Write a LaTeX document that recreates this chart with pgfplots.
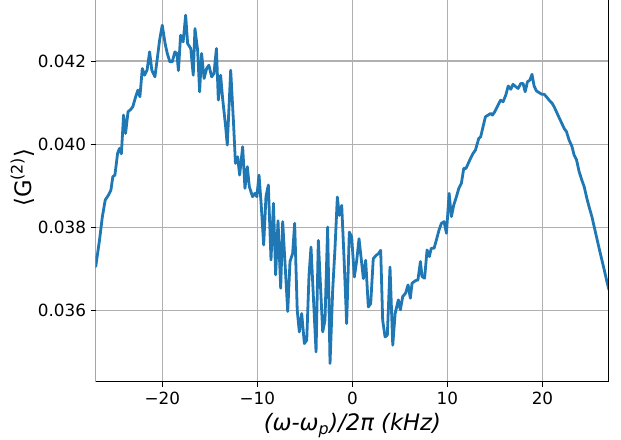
\documentclass[border=0pt]{standalone}
\usepackage{pgfplots}
\pgfplotsset{compat=1.18}
\usetikzlibrary{calc}
\usepackage{fontspec}
\setmainfont{DejaVu Sans}
\definecolor{mplblue}{HTML}{1F77B4}
\definecolor{gridgray}{HTML}{B0B0B0}
\pgfplotstableread{
x y
-27.0 0.03706
-26.6 0.03770
-26.3 0.03826
-26.0 0.03866
-25.65 0.03878
-25.4 0.03890
-25.2 0.03922
-24.98 0.03926
-24.7 0.03978
-24.5 0.03990
-24.3 0.03977
-24.07 0.04070
-23.86 0.04026
-23.6 0.04078
-23.3 0.04084
-23.1 0.04090
-22.8 0.04114
-22.56 0.04130
-22.35 0.04114
-22.1 0.04182
-21.86 0.04166
-21.6 0.04178
-21.33 0.04222
-21.1 0.04178
-20.77 0.04162
-20.5 0.04210
-20.28 0.04250
-20.0 0.04286
-19.7 0.04242
-19.47 0.04218
-19.2 0.04198
-18.95 0.04198
-18.67 0.04222
-18.46 0.04218
-18.3 0.04177
-18.07 0.04262
-17.8 0.04246
-17.54 0.04310
-17.33 0.04242
-17.0 0.04230
-16.74 0.04166
-16.56 0.04278
-16.28 0.04226
-16.07 0.04126
-15.86 0.04218
-15.6 0.04158
-15.33 0.04182
-15.1 0.04190
-14.8 0.04162
-14.56 0.04170
-14.3 0.04230
-14.1 0.04106
-13.86 0.04166
-13.65 0.04110
-13.33 0.04042
-13.16 0.03998
-12.8 0.04178
-12.5 0.04050
-12.3 0.03954
-12.07 0.03970
-11.86 0.03926
-11.54 0.03994
-11.3 0.03894
-11.05 0.03946
-10.84 0.03898
-10.5 0.03874
-10.25 0.03882
-10.05 0.03874
-9.82 0.03926
-9.6 0.03858
-9.33 0.03758
-9.09 0.03874
-8.84 0.03902
-8.56 0.03722
-8.3 0.03858
-8.07 0.03686
-7.82 0.03816
-7.54 0.03654
-7.33 0.03814
-6.8 0.03598
-6.56 0.03718
-6.28 0.03738
-6.07 0.03810
-5.8 0.03601
-5.58 0.03549
-5.33 0.03593
-5.05 0.03521
-4.8 0.03529
-4.56 0.03685
-4.35 0.03753
-4.1 0.03633
-3.82 0.03501
-3.58 0.03769
-3.33 0.03649
-3.12 0.03549
-2.88 0.03577
-2.6 0.03801
-2.35 0.03473
-2.07 0.03649
-1.82 0.03753
-1.58 0.03873
-1.37 0.03829
-1.12 0.03853
-0.88 0.03729
-0.6 0.03569
-0.32 0.03789
-0.07 0.03777
0.21 0.03681
0.46 0.03721
0.7 0.03773
0.95 0.03721
1.16 0.03677
1.4 0.03721
1.68 0.03609
1.93 0.03617
2.2 0.03725
2.5 0.03733
2.74 0.03737
2.98 0.03745
3.19 0.03577
3.44 0.03537
3.68 0.03541
3.96 0.03705
4.25 0.03517
4.5 0.03593
4.84 0.03626
5.05 0.03602
5.3 0.03634
5.6 0.03642
5.86 0.03662
6.1 0.03630
6.28 0.03666
6.63 0.03672
6.9 0.03674
7.16 0.03718
7.33 0.03682
7.6 0.03678
7.86 0.03746
8.1 0.03730
8.3 0.03750
8.6 0.03750
8.84 0.03770
9.12 0.03794
9.37 0.03810
9.65 0.03814
9.9 0.03786
10.18 0.03882
10.42 0.03826
10.67 0.03854
10.95 0.03874
11.2 0.03894
11.47 0.03906
11.72 0.03942
11.96 0.03942
12.35 0.03962
12.7 0.03978
12.95 0.03986
13.3 0.04014
13.5 0.04018
13.75 0.04042
14.0 0.04066
14.28 0.04070
14.56 0.04074
14.74 0.04070
14.98 0.04078
15.33 0.04094
15.6 0.04106
15.86 0.04102
16.14 0.04118
16.4 0.04140
16.67 0.04132
16.9 0.04144
17.2 0.04138
17.44 0.04134
17.72 0.04146
17.96 0.04146
18.18 0.04126
18.42 0.04150
18.67 0.04154
18.9 0.04168
19.12 0.04140
19.37 0.04128
19.65 0.04124
19.93 0.04120
20.18 0.04120
20.42 0.04114
20.7 0.04106
21.0 0.04099
21.23 0.04090
21.47 0.04078
21.75 0.04064
22.04 0.04050
22.28 0.04038
22.53 0.04030
22.8 0.04010
23.1 0.03995
23.33 0.03974
23.58 0.03963
23.86 0.03934
24.14 0.03914
24.39 0.03898
24.67 0.03870
24.9 0.03850
25.2 0.03826
25.44 0.03802
25.68 0.03778
25.96 0.03750
26.25 0.03722
26.5 0.03698
26.74 0.03674
27.0 0.03650
}\datatable
\begin{document}
\begin{tikzpicture}
\begin{axis}[
  at={(0,0)}, anchor=south west,
  scale only axis,
  width=385pt, height=286.5pt,
  xmin=-27, xmax=27,
  ymin=0.034287, ymax=0.043466,
  axis line style={draw=none},
  tick pos=left,
  tick align=outside,
  major tick length=3.75pt,
  tick style={black, line width=0.6pt},
  xtick={-20,-10,0,10,20},
  xticklabels={−20,−10,0,10,20},
  ytick={0.036,0.038,0.040,0.042},
  yticklabels={0.036,0.038,0.040,0.042},
  scaled y ticks=false,
  ticklabel style={font=\fontsize{12.6}{15}\selectfont},
  grid=major,
  major grid style={gridgray, line width=0.8pt},
  clip=true,
  xlabel={\fontsize{17}{20}\selectfont\itshape (ω-ω\textsubscript{p})/2π (kHz)},
  ylabel={\fontsize{17}{20}\selectfont ⟨G\textsuperscript{(2)}⟩},
  every axis y label/.style={at={($(rel axis cs:0,0.535)+(-55pt,0)$)}, rotate=90, anchor=center},
  every axis x label/.style={at={(rel axis cs:0.5,0)}, anchor=north, yshift=-20pt},
]
\addplot[mplblue, line width=2.1pt, line join=round, line cap=round, no markers] table[x=x,y=y] {\datatable};
\draw[black, line width=0.8pt] (rel axis cs:0,1) -- (rel axis cs:0,0) -- (rel axis cs:1,0) -- (rel axis cs:1,1);
\end{axis}
\pgfresetboundingbox
\useasboundingbox (-71.8pt,-43.5pt) rectangle (394pt,286.5pt);
\end{tikzpicture}
\end{document}
